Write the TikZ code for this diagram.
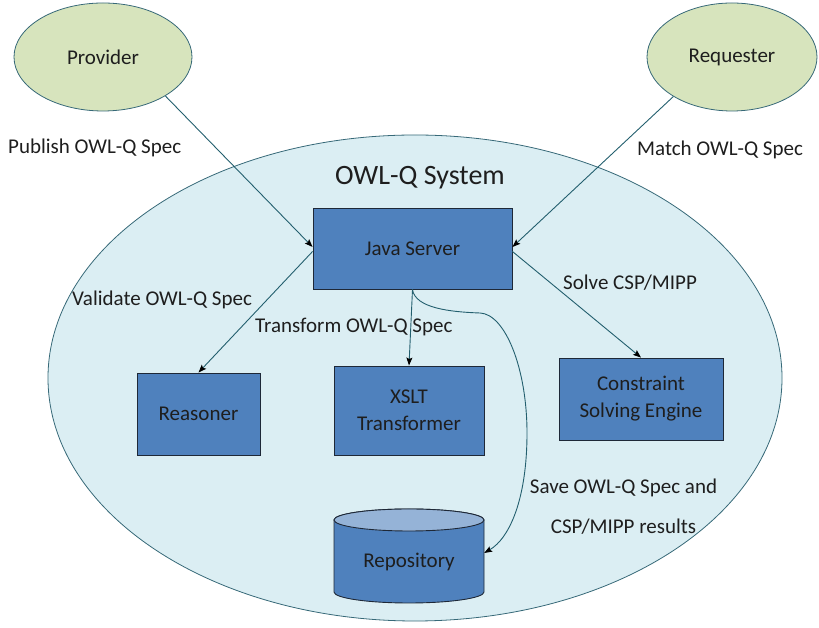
\documentclass[tikz,border=0pt]{standalone}
\usepackage{fontspec}
\setmainfont{Carlito}
\usetikzlibrary{arrows.meta,shapes.geometric}

\definecolor{actorfill}{RGB}{215,228,189}
\definecolor{sysfill}{RGB}{219,238,243}
\definecolor{boxblue}{RGB}{79,129,189}
\definecolor{cyltop}{RGB}{149,179,215}
\definecolor{rimteal}{RGB}{55,105,120}
\definecolor{linkteal}{RGB}{35,95,110}
\definecolor{boxedge}{RGB}{30,40,55}
\definecolor{ink}{RGB}{30,30,30}

\begin{document}
\begin{tikzpicture}[
  x=1pt, y=1pt,
  font=\fontsize{21}{27}\selectfont,
  every node/.style={text=ink},
  actor/.style={ellipse, draw=rimteal, fill=actorfill, line width=0.8pt,
    minimum height=108pt, inner sep=0pt},
  sysarea/.style={ellipse, draw=rimteal, fill=sysfill, line width=0.8pt,
    minimum width=734pt, minimum height=486pt, inner sep=0pt},
  compbox/.style={rectangle, draw=boxedge, fill=boxblue, line width=0.9pt,
    align=center, inner sep=0pt},
  lbl/.style={anchor=west, inner sep=0pt},
  conn/.style={draw=linkteal, line width=0.9pt,
    -{Stealth[length=8pt, width=6pt, inset=1.5pt, black]}}
]
\useasboundingbox (0,0) rectangle (819,628);

% system boundary
\node[sysarea] (sys) at (415,250) {};
\node[font=\fontsize{28}{32}\selectfont] (title) at (420,450) {OWL-Q System};

% external actors
\node[actor, minimum width=178pt] (prov) at (103,571) {Provider};
\node[actor, minimum width=170pt] (req) at (732,571) {Requester};

% components
\node[compbox, minimum width=199pt, minimum height=81pt] (js) at (412.5,379.5) {Java Server};
\node[compbox, minimum width=123pt, minimum height=82pt] (reas) at (198.5,214) {Reasoner};
\node[compbox, minimum width=150pt, minimum height=89pt] (xslt) at (409,217.5) {XSLT\\Transformer};
\node[compbox, minimum width=164pt, minimum height=82pt] (cse) at (641,229) {Constraint\\Solving Engine};

% repository drum
\filldraw[draw=boxedge, fill=boxblue, line width=0.9pt]
  (334,108) -- (334,36) arc[start angle=180, end angle=360, x radius=75, y radius=11]
  -- (484,108) arc[start angle=0, end angle=180, x radius=75, y radius=11] -- cycle;
\filldraw[draw=boxedge, fill=cyltop, line width=0.9pt]
  (409,108) ellipse[x radius=75, y radius=11];
\node[minimum width=150pt, minimum height=94pt, inner sep=0pt] (repo) at (409,66) {Repository};

% connectors
\draw[conn] (prov.-32) -- ([yshift=1.5pt]js.west);
\draw[conn] (req.-146) -- ([yshift=1.5pt]js.east);
\draw[conn] ([yshift=-3pt]js.west) -- (reas.north);
\draw[conn] ([yshift=-3pt]js.east) -- (cse.north);
\draw[conn] (js.south) -- (xslt.north);
\draw[conn] (js.south) .. controls (415,320) and (450,316) .. (480,315)
  .. controls (505,314) and (527,260) .. (527,195)
  .. controls (527,130) and (510,90) .. ([yshift=9pt]repo.east);

% connector labels
\node[lbl] (lpub) at (8,480) {Publish OWL-Q Spec};
\node[lbl] (lmatch) at (637,478) {Match OWL-Q Spec};
\node[lbl] (lval) at (72,328) {Validate OWL-Q Spec};
\node[lbl] (ltrans) at (255,301) {Transform OWL-Q Spec};
\node[lbl] (lsolve) at (563,345) {Solve CSP/MIPP};
\node[align=center, inner sep=0pt, font=\fontsize{21}{40}\selectfont] (lsave) at (623.5,121)
  {Save OWL-Q Spec and\\CSP/MIPP results};
\end{tikzpicture}
\end{document}
